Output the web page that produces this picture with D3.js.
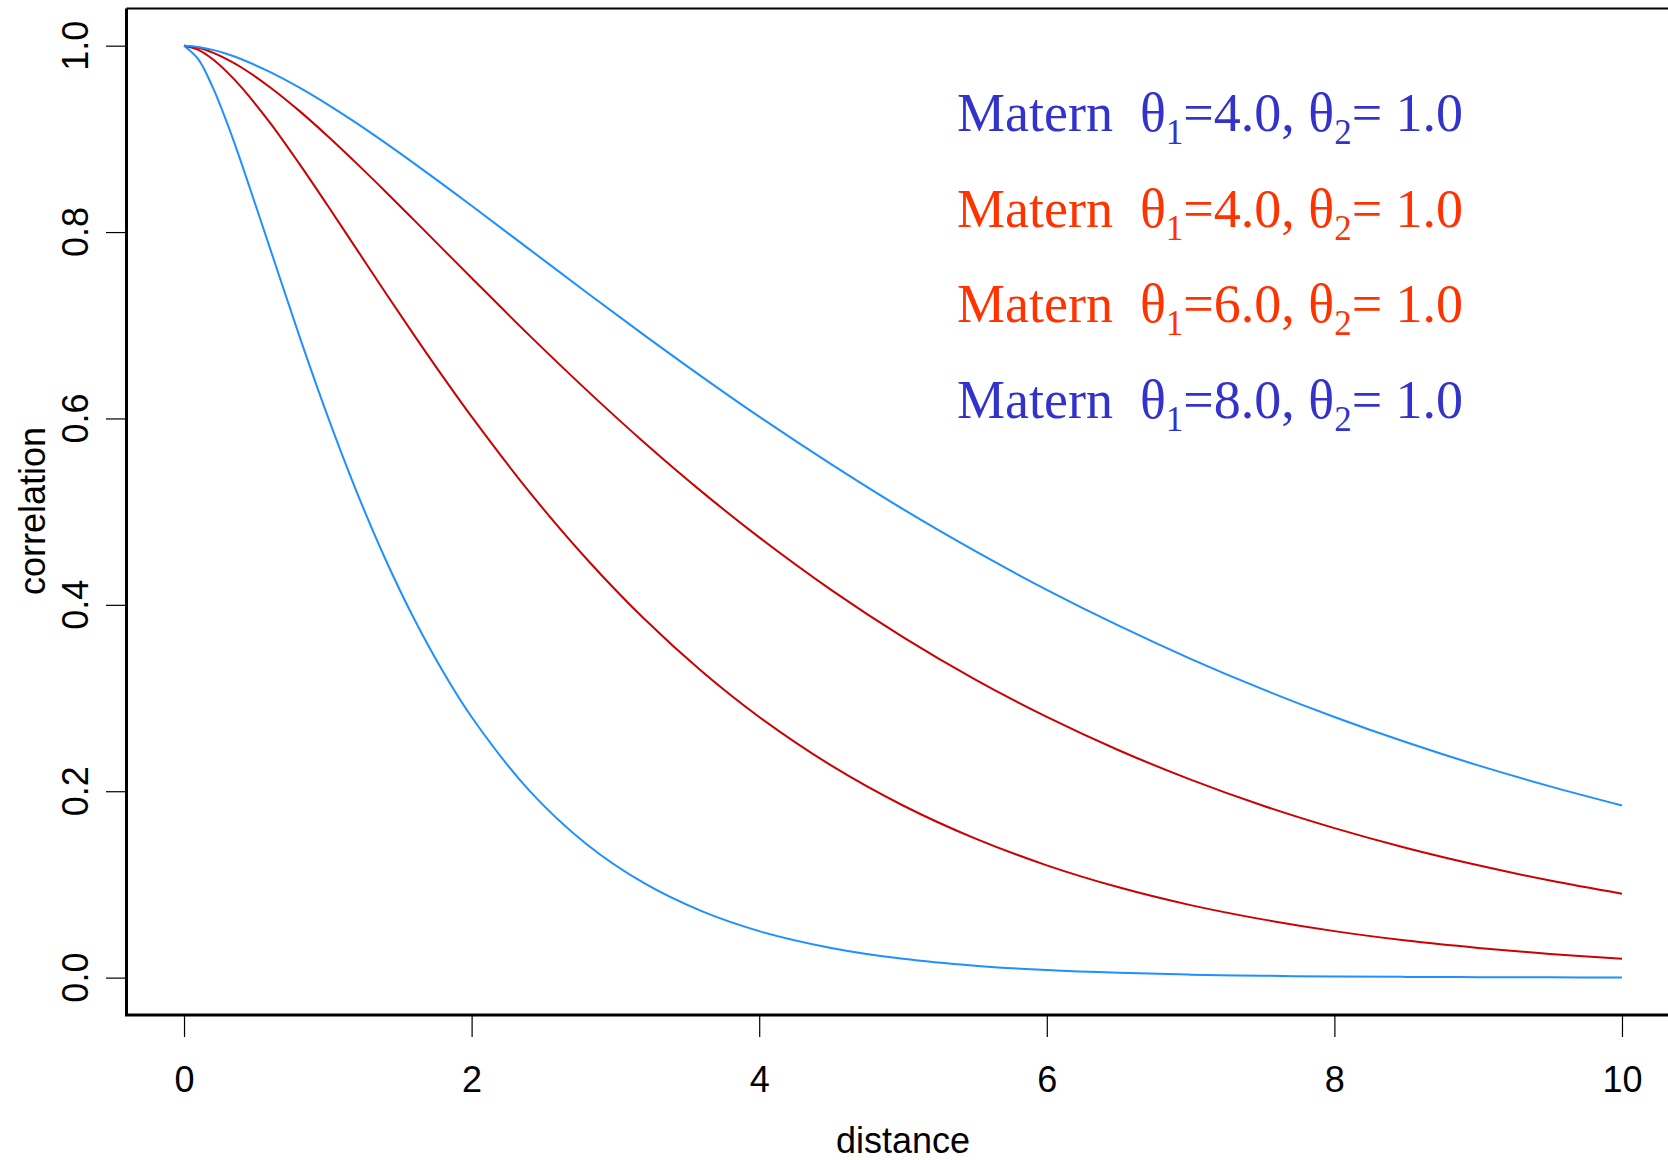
<!DOCTYPE html>
<html>
  <head>
    <title>Matern correlation</title>
    <meta charset="utf-8">
    <script src="https://d3js.org/d3.v7.min.js"></script>
    <style>
      body {margin:0; background:#fff;}
      text {font-family: "Liberation Sans", Arial, Helvetica, sans-serif;}
      .legend text {font-family: "Liberation Serif", "Times New Roman", Times, serif; white-space: pre;}
    </style>
  </head>
  <body>
  <script>
    var distance = [0, 0.1, 0.2, 0.3, 0.4, 0.6, 0.8, 1.0, 1.2, 1.4, 1.6, 1.8, 2.0, 2.4, 2.8, 3.2, 3.6,
                    4.0, 4.5, 5.0, 5.5, 6.0, 6.5, 7.0, 7.5, 8.0, 8.5, 9.0, 9.5, 10.0];

    // correlation values, one array per curve (steepest first)
    var corrA = [1, 0.9854, 0.9552, 0.9169, 0.8737, 0.7817, 0.6894, 0.6019, 0.5215, 0.4492, 0.3850,
                 0.3287, 0.2797, 0.2009, 0.1431, 0.1013, 0.0713, 0.0499, 0.0319, 0.0202, 0.0128,
                 0.0081, 0.0051, 0.0032, 0.0020, 0.0012, 0.0008, 0.0005, 0.0003, 0.0002];
    var corrB = [1, 0.9955, 0.9854, 0.9716, 0.9552, 0.9169, 0.8737, 0.8282, 0.7817, 0.7352, 0.6894,
                 0.6449, 0.6019, 0.5215, 0.4492, 0.3850, 0.3287, 0.2797, 0.2277, 0.1847, 0.1494,
                 0.1205, 0.0969, 0.0778, 0.0625, 0.0499, 0.0398, 0.0319, 0.0254, 0.0202];
    var corrC = [1, 0.9978, 0.9926, 0.9854, 0.9766, 0.9552, 0.9303, 0.9028, 0.8737, 0.8436, 0.8128,
                 0.7817, 0.7507, 0.6894, 0.6304, 0.5742, 0.5215, 0.4724, 0.4161, 0.3654, 0.3201,
                 0.2797, 0.2440, 0.2125, 0.1847, 0.1604, 0.1391, 0.1205, 0.1042, 0.0901];
    var corrD = [1, 0.9987, 0.9955, 0.9910, 0.9854, 0.9716, 0.9552, 0.9368, 0.9169, 0.8957, 0.8737,
                 0.8512, 0.8282, 0.7817, 0.7352, 0.6894, 0.6449, 0.6019, 0.5509, 0.5026, 0.4578,
                 0.4161, 0.3776, 0.3421, 0.3095, 0.2797, 0.2525, 0.2277, 0.2052, 0.1847];

    var curveColors = ["#1e90ff", "#cc0000", "#cc0000", "#1e90ff"];

    var xTicks = [0, 2, 4, 6, 8, 10];
    var yTicks = [0, 0.2, 0.4, 0.6, 0.8, 1.0];

    // legend lines: first and second parameter as printed
    var legendTheta1 = ["4.0", "4.0", "6.0", "8.0"];
    var legendTheta2 = ["1.0", "1.0", "1.0", "1.0"];
    var legendColors = ["#3333cc", "#ff3300", "#ff3300", "#3333cc"];

    var width = 1668;
    var height = 1160;

    var svg = d3.select("body")
        .append("svg")
        .attr("width", width)
        .attr("height", height);

    // R style: 4% padding on each side of the data range
    var x = d3.scaleLinear().domain([-0.4, 10.4]).range([126.5, 1679.5]);
    var y = d3.scaleLinear().domain([-0.04, 1.04]).range([1014.9, 8.4]);

    var series = [corrA, corrB, corrC, corrD];

    var line = d3.line()
        .x(function(d, i) { return x(distance[i]); })
        .y(function(d) { return y(d); })
        .curve(d3.curveCatmullRom.alpha(0.5));

    svg.selectAll("path.curve")
        .data(series)
        .enter()
        .append("path")
        .attr("class", "curve")
        .attr("d", line)
        .attr("fill", "none")
        .attr("stroke", function(d, i) { return curveColors[i]; })
        .attr("stroke-width", 2);

    // x axis ticks + labels
    var xAxis = d3.axisBottom(x)
        .tickValues(xTicks)
        .tickFormat(d3.format("d"))
        .tickSize(21)
        .tickPadding(29);

    var gx = svg.append("g")
        .attr("transform", "translate(0,1016)")
        .call(xAxis);
    gx.select(".domain").remove();
    gx.selectAll("line").attr("stroke", "#000").attr("stroke-width", 1.2);
    gx.selectAll("text").attr("font-size", 36).attr("fill", "#000")
        .attr("font-family", "Liberation Sans, Arial, sans-serif");

    // y axis ticks, labels are turned
    var yAxis = d3.axisLeft(y)
        .tickValues(yTicks)
        .tickFormat("")
        .tickSize(20);

    var gy = svg.append("g")
        .attr("transform", "translate(126,0)")
        .call(yAxis);
    gy.select(".domain").remove();
    gy.selectAll("line").attr("stroke", "#000").attr("stroke-width", 1.2);

    svg.selectAll("text.ylab")
        .data(yTicks)
        .enter()
        .append("text")
        .attr("class", "ylab")
        .attr("transform", function(d) { return "translate(88," + y(d) + ") rotate(-90)"; })
        .attr("text-anchor", "middle")
        .attr("font-size", 36)
        .text(d3.format(".1f"));

    // frame (right side falls outside the page)
    svg.append("path")
        .attr("d", "M" + x.range()[1] + "," + y.range()[0] + "H" + x.range()[0] + "V" + y.range()[1])
        .attr("fill", "none")
        .attr("stroke", "#000")
        .attr("stroke-width", 3);
    svg.append("line")
        .attr("x1", x.range()[0]).attr("x2", x.range()[1])
        .attr("y1", y.range()[1]).attr("y2", y.range()[1])
        .attr("stroke", "#000")
        .attr("stroke-width", 2);

    // axis titles
    svg.append("text")
        .attr("x", 903)
        .attr("y", 1153)
        .attr("text-anchor", "middle")
        .attr("font-size", 36)
        .text("distance");

    svg.append("text")
        .attr("transform", "translate(45,511) rotate(-90)")
        .attr("text-anchor", "middle")
        .attr("font-size", 36)
        .text("correlation");

    // legend text
    var legend = svg.append("g").attr("class", "legend");
    var rows = legend.selectAll("text")
        .data(legendTheta1)
        .enter()
        .append("text")
        .attr("x", 957)
        .attr("y", function(d, i) { return 131 + i * 95.7; })
        .attr("font-size", 54)
        .attr("fill", function(d, i) { return legendColors[i]; });

    rows.append("tspan").text("Matern  \u03b8");
    rows.append("tspan").attr("font-size", 35).attr("dy", 13).text("1");
    rows.append("tspan").attr("dy", -13).text(function(d) { return "=" + d + ", \u03b8"; });
    rows.append("tspan").attr("font-size", 35).attr("dy", 13).text("2");
    rows.append("tspan").attr("dy", -13).text(function(d, i) { return "= " + legendTheta2[i]; });
  </script>
  </body>
</html>
